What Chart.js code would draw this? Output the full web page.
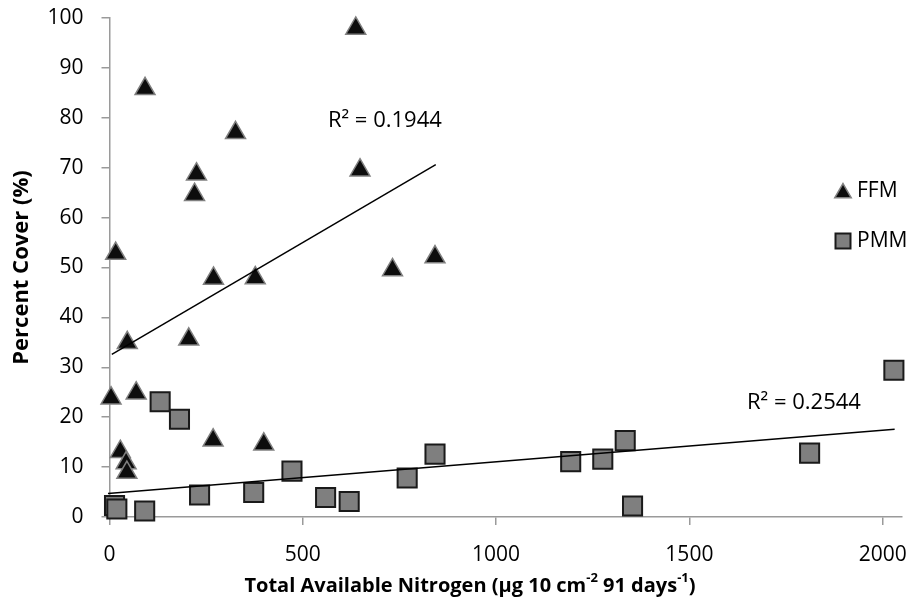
<!DOCTYPE html>
<html>
<head>
<meta charset="utf-8">
<script src="https://cdn.jsdelivr.net/npm/chart.js@4.4.1/dist/chart.umd.min.js"></script>
<style>
    html, body { margin: 0; padding: 0; background: #fff; }
    #wrap { width: 918px; height: 609px; }
</style>
</head>
<body>
<div id="wrap"><canvas id="coverChart" width="918" height="609"></canvas></div>
<script>
// FFM (triangles)
const ffmX = [637, 92, 326, 225, 220, 648, 16, 732, 842, 269, 377, 46, 205, 4, 69, 268, 399, 28, 43, 45];
const ffmY = [97.9, 85.8, 77.0, 68.7, 64.6, 69.5, 52.8, 49.5, 52.1, 47.8, 47.9, 34.9, 35.6, 23.8, 24.8, 15.4, 14.6, 13.1, 10.8, 8.9];

// PMM (squares)
const pmmX = [131, 181, 472, 233, 373, 559, 620, 91, 13, 19, 1193, 1276, 1334, 1353, 1811, 842, 770, 2029];
const pmmY = [23.1, 19.6, 9.2, 4.4, 4.9, 3.9, 3.1, 1.2, 2.3, 1.6, 11.1, 11.6, 15.3, 2.2, 12.8, 12.6, 7.8, 29.4];

// linear trendlines, end points
const ffmTrendX = [6, 844];
const ffmTrendY = [32.6, 70.6];
const pmmTrendX = [-4, 2031];
const pmmTrendY = [4.7, 17.6];

const ffmR2 = 'R\u00B2 = 0.1944';
const pmmR2 = 'R\u00B2 = 0.2544';

const xTicks = [0, 500, 1000, 1500, 2000];
const yTicks = [0, 10, 20, 30, 40, 50, 60, 70, 80, 90, 100];

const FONT = '"Open Sans", Lato, sans-serif';
const AXIS_GREY = '#9a9a9a';

function toPoints(xs, ys) {
    return xs.map((x, i) => ({ x: x, y: ys[i] }));
}

function drawTriangle(ctx, x, y, r) {
    ctx.beginPath();
    ctx.moveTo(x, y - r);
    ctx.lineTo(x + r * Math.sin(Math.PI * 2 / 3), y + r / 2);
    ctx.lineTo(x - r * Math.sin(Math.PI * 2 / 3), y + r / 2);
    ctx.closePath();
}

// R² labels, legend and axis titles (with superscripts)
const extras = {
    id: 'extras',
    afterDraw(chart) {
        const ctx = chart.ctx;
        const xs = chart.scales.x;
        const ys = chart.scales.y;
        const area = chart.chartArea;

        ctx.save();
        ctx.fillStyle = '#000';
        ctx.textBaseline = 'middle';
        ctx.textAlign = 'left';
        ctx.font = '22px ' + FONT;
        ctx.fillText(ffmR2, xs.getPixelForValue(565), ys.getPixelForValue(79.5));
        ctx.fillText(pmmR2, xs.getPixelForValue(1649), ys.getPixelForValue(22.8));

        // legend
        const lx = 843;
        ctx.fillStyle = '#0d0d0d';
        ctx.strokeStyle = '#808080';
        ctx.lineWidth = 1.5;
        drawTriangle(ctx, lx, 193, 9.5);
        ctx.fill();
        ctx.stroke();
        ctx.fillStyle = '#7f7f7f';
        ctx.strokeStyle = '#1a1a1a';
        ctx.lineWidth = 2;
        ctx.fillRect(lx - 7.5, 233.5, 15, 15);
        ctx.strokeRect(lx - 7.5, 233.5, 15, 15);
        ctx.fillStyle = '#000';
        ctx.font = '21px ' + FONT;
        ctx.fillText('FFM', 857, 191);
        ctx.fillText('PMM', 857, 241);

        // x title
        const parts = [
            ['Total Available Nitrogen (\u00B5g 10 cm', false],
            ['-2', true],
            [' 91 days', false],
            ['-1', true],
            [')', false]
        ];
        const big = 'bold 20px ' + FONT;
        const small = 'bold 13px ' + FONT;
        let total = 0;
        parts.forEach(p => {
            ctx.font = p[1] ? small : big;
            total += ctx.measureText(p[0]).width;
        });
        let tx = 470 - total / 2;
        const ty = 586;
        parts.forEach(p => {
            ctx.font = p[1] ? small : big;
            ctx.fillText(p[0], tx, p[1] ? ty - 8 : ty);
            tx += ctx.measureText(p[0]).width;
        });

        // y title
        ctx.translate(22, (area.top + area.bottom) / 2);
        ctx.rotate(-Math.PI / 2);
        ctx.textAlign = 'center';
        ctx.font = 'bold 22px ' + FONT;
        ctx.fillText('Percent Cover (%)', 0, 0);
        ctx.restore();
    }
};

new Chart(document.getElementById('coverChart'), {
    type: 'scatter',
    data: {
        datasets: [
            {
                label: 'FFM',
                data: toPoints(ffmX, ffmY),
                pointStyle: 'triangle',
                radius: 11.5,
                backgroundColor: '#0d0d0d',
                borderColor: '#808080',
                borderWidth: 1.5,
                clip: false,
                order: 2
            },
            {
                label: 'PMM',
                data: toPoints(pmmX, pmmY),
                pointStyle: 'rect',
                radius: 13.5,
                backgroundColor: '#7f7f7f',
                borderColor: '#1a1a1a',
                borderWidth: 2,
                clip: false,
                order: 1
            },
            {
                label: 'FFM trend',
                data: toPoints(ffmTrendX, ffmTrendY),
                showLine: true,
                pointRadius: 0,
                borderColor: '#000',
                borderWidth: 1.5,
                order: 0
            },
            {
                label: 'PMM trend',
                data: toPoints(pmmTrendX, pmmTrendY),
                showLine: true,
                pointRadius: 0,
                borderColor: '#000',
                borderWidth: 1.5,
                clip: false,
                order: 0
            }
        ]
    },
    options: {
        responsive: false,
        animation: false,
        events: [],
        layout: { padding: { top: 18, right: 16, left: 0, bottom: 0 } },
        plugins: {
            legend: { display: false },
            tooltip: { enabled: false }
        },
        scales: {
            x: {
                type: 'linear',
                min: 0,
                max: 2050,
                afterBuildTicks: s => { s.ticks = xTicks.map(v => ({ value: v })); },
                afterFit: s => { s.height = 92; s.paddingLeft = 0; s.paddingRight = 0; },
                grid: { drawOnChartArea: false, tickLength: 8, color: AXIS_GREY, lineWidth: 1.5 },
                border: { color: AXIS_GREY, width: 1.5 },
                ticks: {
                    color: '#000',
                    font: { family: FONT, size: 21 },
                    padding: 17,
                    maxRotation: 0,
                    callback: v => String(v)
                }
            },
            y: {
                min: 0,
                max: 100,
                afterBuildTicks: s => { s.ticks = yTicks.map(v => ({ value: v })); },
                afterFit: s => { s.width = 109.5; s.paddingTop = 0; s.paddingBottom = 0; },
                grid: { drawOnChartArea: false, tickLength: 8, color: AXIS_GREY, lineWidth: 1.5 },
                border: { color: AXIS_GREY, width: 1.5 },
                ticks: { color: '#000', font: { family: FONT, size: 21 }, padding: 18 }
            }
        }
    },
    plugins: [extras]
});
</script>
</body>
</html>
